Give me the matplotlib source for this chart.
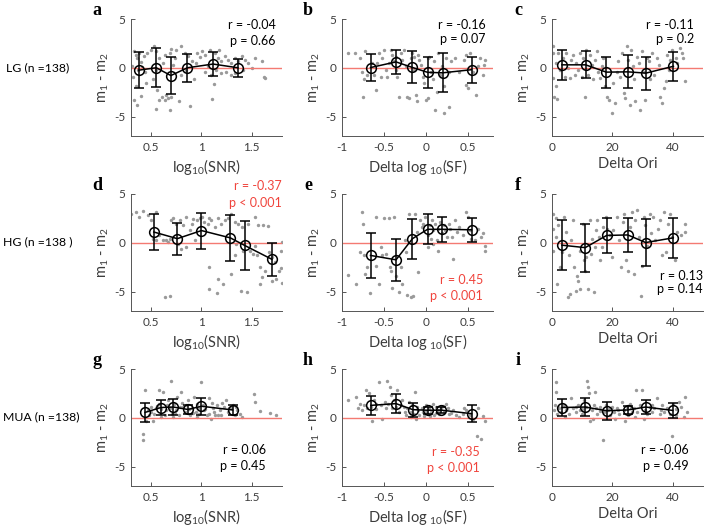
import matplotlib
matplotlib.use('Agg')
import matplotlib.pyplot as plt

plt.rcParams['font.family'] = ['Lato', 'DejaVu Sans']
plt.rcParams['mathtext.fontset'] = 'custom'
plt.rcParams['mathtext.rm'] = 'Lato'
plt.rcParams['mathtext.it'] = 'Lato'
plt.rcParams['axes.unicode_minus'] = False

# ---------------------------------------------------------
# data
# ---------------------------------------------------------
# LG vs log10(SNR)
a_x = [0.33, 0.35, 0.36, 0.38, 0.40, 0.41, 0.43, 0.32, 0.35, 0.33, 0.36, 0.40, 0.45, 0.31, 0.37, 0.44,
       0.46, 0.50, 0.53, 0.55, 0.58, 0.62, 0.55, 0.52, 0.56, 0.58, 0.55, 0.61, 0.64, 0.65, 0.67, 0.69, 0.70, 0.72, 0.64, 0.69, 0.74,
       0.75, 0.80, 0.84, 0.87, 0.91, 0.80, 0.85, 0.95, 0.99, 0.93, 0.78, 0.89, 0.96, 0.70,
       1.01, 1.04, 1.08, 1.13, 1.16, 1.19, 1.23, 1.26, 1.29, 1.33, 1.04, 1.09, 1.14, 1.19, 1.24, 1.29, 1.33, 1.12, 1.10, 1.06, 1.17,
       1.36, 1.40, 1.43, 1.46, 1.53, 1.60, 1.62, 1.63, 1.41, 1.50]
a_y = [1.7, 1.35, 1.0, 1.5, 0.6, 0.1, 1.2, -0.9, -1.9, -3.3, -3.8, -2.9, -1.6, 0.2, -0.2, -0.4,
       1.5, 1.85, 2.2, 1.7, 1.0, 0.5, -0.2, -1.2, -2.3, -3.3, -4.2, -3.0, -3.3, -2.8, -3.1, -4.3, -3.0, 0.3, 1.3, 1.5, 1.0,
       1.85, 2.2, 1.5, 1.2, 0.65, -0.7, -0.2, 0.45, 1.1, -1.2, -3.4, -3.9, 1.5, 1.9,
       1.7, 1.3, 1.85, 1.5, 1.0, 0.65, 1.2, 0.8, 0.5, 1.0, -0.4, -0.7, -0.2, -0.55, -0.4, -0.7, -0.55, -1.7, -3.2, 0.15, 1.85,
       0.65, 1.2, 0.8, 0.5, 1.0, 0.65, -0.9, -1.0, -0.2, 0.0]
a_bx = [0.375, 0.551, 0.696, 0.861, 1.115, 1.361]
a_bm = [-0.25, 0.0, -0.8, 0.0, 0.38, 0.0]
a_be = [1.82, 1.98, 1.9, 1.45, 1.2, 0.93]

# LG vs Delta log10(SF)
b_x = [-0.93, -0.84, -0.78, -0.75, -0.76, -0.74, -0.72, -0.70, -0.64, -0.62,
       -0.59, -0.56, -0.54, -0.52, -0.50, -0.48, -0.46, -0.44, -0.42, -0.40,
       -0.38, -0.36, -0.34, -0.32, -0.30, -0.28, -0.26, -0.24, -0.22, -0.20,
       -0.18, -0.16, -0.14, -0.12, -0.11, -0.10, -0.08, -0.06, -0.04, -0.02,
       0.00, 0.02, 0.04, 0.06, 0.08, 0.10, 0.11, 0.13, 0.15, 0.17,
       0.19, 0.21, 0.22, 0.24, 0.27, 0.28, 0.30, 0.35, 0.40, 0.45,
       0.48, 0.50, 0.52, 0.56, 0.60, 0.62, 0.65, 0.68, 0.71, 0.69,
       0.48, 0.02, -0.14, -0.36, -0.58]
b_y = [1.5, 1.5, 1.0, -3.0, -0.4, -1.2, 1.7, -0.7, 0.5, -0.7,
       -2.3, 1.5, -0.9, 1.0, 1.85, -0.2, -0.9, 0.5, 1.85, 1.35,
       0.65, -0.2, -0.9, -3.0, 1.5, 0.8, 1.85, 0.15, -2.95, -3.1,
       1.0, 1.5, -0.2, -2.8, -3.45, 1.35, 0.8, 0.3, -0.9, -1.6,
       -3.3, -3.1, 1.15, -0.4, -1.2, 0.65, -4.3, -2.45, 1.5, -0.7,
       0.15, -4.65, -1.9, 1.0, -4.0, -0.4, 0.65, 1.0, -0.4, 0.8,
       -1.75, -2.1, 1.5, -0.4, -2.8, 0.15, 1.0, -0.7, 0.8, 0.3,
       1.35, 1.0, 1.15, 1.15, 0.5]
b_bx = [-0.66, -0.356, -0.168, 0.02, 0.2, 0.544]
b_bm = [0.02, 0.6, 0.05, -0.47, -0.52, -0.2]
b_be = [1.42, 1.25, 1.63, 1.57, 2.0, 1.35]

# LG vs Delta Ori
c_x = [0.3, 0.3, 0.3, 0.6, 1.7, 1.2, 1.4, 2.0, 2.6, 3.7, 4.2, 4.8, 5.3, 5.9, 6.4, 7.0, 7.6, 8.1, 8.7, 9.2,
       9.8, 10.3, 10.9, 11.4, 12.0, 12.6, 13.1, 13.7, 14.2, 14.8, 15.3, 15.9, 16.4, 17.0, 17.6, 18.3, 19.0, 19.8, 20.3, 20.9,
       21.4, 22.0, 22.6, 23.1, 23.7, 24.2, 24.8, 25.0, 25.7, 26.2, 26.8, 27.2, 27.6, 28.1, 28.7, 29.2, 29.8, 30.3, 30.9, 31.4,
       32.0, 32.6, 33.1, 33.7, 34.8, 35.3, 35.9, 36.4, 37.0, 37.6, 38.1, 38.7, 39.2, 39.8, 40.9, 41.4, 42.3, 43.1, 43.9, 43.4]
c_y = [2.2, 1.5, -1.0, -3.0, -3.2, -1.85, 0.5, 1.5, -0.2, 1.0, -0.9, 1.5, 0.0, -1.05, 0.8, 1.35, -0.7, 0.5, -0.2, 1.5,
       -0.9, 1.0, -2.95, 1.85, -0.7, 1.35, 0.3, -1.2, 0.8, 1.7, -0.4, -1.05, 0.15, 1.0, -1.9, -2.95, -3.3, -4.6, -1.6, -3.6,
       -0.4, 0.65, -0.9, 1.5, -2.6, -3.1, 2.2, 0.8, -3.8, 1.85, 0.15, -1.2, -3.45, 1.15, 0.5, -4.3, 1.7, -0.4, -3.3, 1.0,
       0.65, -1.2, 1.5, -0.7, 1.0, 0.3, -2.95, -3.6, -2.1, -1.4, 1.35, -0.2, 0.8, 1.85, 1.0, 0.5, 2.0, 1.5, -1.4, 1.0]
c_bx = [3.3, 11.1, 18.0, 25.1, 31.1, 40.2]
c_bm = [0.3, 0.3, -0.45, -0.42, -0.55, 0.15]
c_be = [1.55, 1.4, 1.6, 1.7, 1.7, 1.5]

# HG vs log10(SNR)
d_x = [0.30, 0.35, 0.38, 0.42, 0.47, 0.50, 0.55, 0.52, 0.55, 0.58, 0.62, 0.65, 0.69, 0.70, 0.72, 0.75, 0.79, 0.82, 0.85, 0.89,
       0.91, 0.92, 0.96, 0.99, 1.01, 1.03, 1.06, 1.07, 1.09, 1.13, 1.16, 1.19, 1.23, 1.26, 1.29, 1.33, 1.36, 1.40, 1.46, 1.53,
       1.56, 1.61, 1.66,
       0.94, 0.85, 1.07, 1.16, 1.21, 1.07, 1.15, 1.29, 1.33, 1.39, 1.45, 1.34, 1.48, 1.51, 1.55, 1.58, 1.60, 1.63, 1.67, 1.70,
       1.73, 1.77, 1.80, 1.79, 1.79, 1.80, 1.74, 1.70, 1.58, 0.64, 0.69, 0.67, 0.77, 0.80, 1.53, 1.41]
d_y = [3.0, 3.15, 2.65, 3.25, 2.85, 2.3, 3.15, 0.4, 0.25, 0.75, 0.3, 0.25, 0.4, 2.3, 2.5, 1.95, 2.3, 1.8, 2.65, 1.3,
       1.95, 2.4, 2.3, 2.5, 2.65, 2.15, 1.9, 2.5, 2.3, 1.6, 2.5, 1.95, 2.3, 2.5, 3.0, 2.15, 1.95, 1.6, 1.95, 2.65,
       1.8, 1.8, 1.7,
       0.25, -0.45, -2.5, -3.7, -4.25, -4.75, -5.2, -3.2, -1.3, -4.9, -5.1, -0.1, -0.8, -1.15, -1.3, -2.5, -3.55, -2.85, -0.95, -1.5,
       -2.0, -2.85, 0.05, -0.8, -2.6, -4.15, -3.7, -3.9, -4.25, -5.55, -5.45, 0.05, -0.1, -0.6, -0.3, -0.8]
d_bx = [0.527, 0.76, 1.0, 1.287, 1.43, 1.70]
d_bm = [1.1, 0.42, 1.25, 0.5, -0.28, -1.7]
d_be = [1.85, 1.65, 1.85, 2.35, 2.5, 1.7]

# HG vs Delta log10(SF)
e_x = [-0.93, -0.83, -0.78, -0.76, -0.75, -0.74, -0.72, -0.70, -0.67, -0.60,
       -0.59, -0.56, -0.54, -0.52, -0.50, -0.48, -0.44, -0.43, -0.42, -0.38,
       -0.40, -0.36, -0.32, -0.30, -0.28, -0.25, -0.24, -0.22, -0.20, -0.18,
       -0.15, -0.13, -0.11, -0.09, -0.07, -0.05, -0.03, -0.01, 0.02, 0.03,
       0.05, 0.07, 0.09, 0.11, 0.13, 0.15, 0.17, 0.19, 0.21, 0.23,
       0.25, 0.27, 0.29, 0.31, 0.32, 0.35, 0.37, 0.40, 0.44, 0.48,
       0.50, 0.52, 0.54, 0.58, 0.62, 0.66, 0.68, 0.70, 0.70, 0.08,
       0.06, 0.14]
e_y = [-3.3, -4.25, -0.95, 3.15, 1.95, -1.3, -3.2, -2.5, -5.2, -2.35,
       2.65, -4.25, -0.45, -1.3, 2.5, -1.15, 2.5, -2.5, -2.85, 2.6,
       -4.6, -3.4, -5.1, -2.5, -4.25, 0.25, -0.95, -5.35, 3.0, -5.55,
       -5.45, 3.0, 1.1, -3.05, 2.3, 1.6, 1.95, 2.65, 0.75, -0.45,
       1.8, 2.3, 1.3, 1.95, 0.25, 1.45, 2.15, 0.95, 1.8, 1.3,
       0.6, 1.95, 1.45, 0.6, -1.65, 2.3, 1.1, 1.6, 0.75, 3.15,
       2.65, 1.3, 0.4, 0.25, 1.45, 0.6, 0.95, -0.8, -0.3, -0.1,
       0.4, -0.8]
e_bx = [-0.66, -0.356, -0.16, 0.02, 0.19, 0.544]
e_bm = [-1.3, -1.75, 0.42, 1.38, 1.38, 1.33]
e_be = [2.35, 2.15, 2.05, 1.55, 1.3, 1.22]

# HG vs Delta Ori
f_x = [0.3, 0.3, 0.3, 1.2, 1.4, 1.7, 2.0, 2.8, 3.4, 3.9, 4.8, 5.3, 5.7, 6.1, 6.4, 7.0, 7.2, 7.9, 8.3, 8.7,
       9.2, 9.4, 10.1, 10.6, 10.9, 12.0, 12.6, 12.8, 13.4, 13.9, 14.2, 14.6, 15.0, 15.7, 16.4, 17.0, 17.9, 18.3, 19.2, 19.8,
       20.3, 21.4, 22.3, 22.9, 23.4, 24.0, 24.6, 25.0, 25.7, 26.4, 27.0, 27.6, 28.1, 28.7, 29.4, 29.8, 30.3, 30.9, 31.4, 32.3,
       32.8, 33.4, 34.2, 35.0, 35.9, 36.4, 37.0, 37.9, 38.3, 39.0, 39.8, 40.6, 41.4, 43.9, 44.2, 42.6, 15.9, 11.4]
f_y = [3.0, 1.45, -0.8, 2.5, 0.6, -4.25, 1.8, -2.5, -0.95, 2.65, 1.1, -5.55, -1.3, -5.3, 0.25, 2.3, -2.5, -4.9, -3.4, -3.9,
       -4.75, -0.8, 1.95, -1.8, -2.85, -4.75, 2.3, -1.15, 0.4, -5.1, -0.45, 1.3, 2.3, 0.6, -0.45, 1.6, 2.65, 1.45, 0.75, -1.5,
       1.3, 2.65, 0.25, -2.5, 2.15, 3.0, -1.8, -2.85, 1.6, 3.15, -3.2, 2.3, 3.35, 0.6, -5.45, -2.35, 2.65, 1.8, -0.3, 3.0,
       0.95, 2.65, 0.25, 1.45, 2.3, -1.3, 3.15, -0.95, 1.95, 3.0, 0.6, -1.8, 1.1, 1.95, 1.1, 0.75, -1.8, -1.5]
f_bx = [3.3, 11.0, 18.1, 25.1, 31.0, 40.1]
f_bm = [-0.25, -0.5, 0.75, 0.8, 0.02, 0.5]
f_be = [2.55, 2.45, 1.78, 1.7, 2.43, 2.05]

# MUA vs log10(SNR)
g_x = [0.44, 0.42, 0.42, 0.45, 0.47, 0.50, 0.52, 0.53, 0.55, 0.58, 0.58, 0.62, 0.64, 0.65, 0.67, 0.69, 0.70, 0.71, 0.73, 0.75,
       0.76, 0.78, 0.80, 0.82, 0.84, 0.85, 0.87, 0.89, 0.91, 0.93, 0.95, 0.96, 0.98, 1.00, 1.02, 1.03, 1.05, 1.07, 1.09, 1.11,
       1.12, 1.15, 1.18, 1.19, 1.22, 1.24, 1.26, 1.29, 1.31, 1.33, 1.35, 1.38, 1.40, 1.52, 1.53, 1.58, 1.68, 1.74, 0.48, 0.60,
       0.72, 0.96, 1.16, 1.07, 0.79, 0.50, 0.56, 0.60, 0.66, 0.74, 0.81, 0.88, 0.92, 0.97, 1.04, 1.10, 1.13, 1.20, 1.27, 1.34]
g_y = [2.8, -1.65, -2.3, -0.3, 0.75, 1.1, -0.3, 0.4, 0.95, 1.45, 2.8, 2.65, 0.25, 0.75, 1.8, 0.95, 3.8, 0.4, 1.45, 0.75,
       2.15, 0.25, 2.65, 1.1, 0.6, 1.3, 1.8, 0.25, 0.95, 2.15, 0.6, 1.45, 0.4, 3.7, 1.3, 0.75, 0.25, 2.0, -0.1, 0.95,
       0.6, 1.3, 0.75, 0.25, 1.1, 1.8, 0.6, 0.95, 1.3, 0.25, 0.75, 0.4, 0.05, 2.45, 1.65, 0.7, 0.5, 0.3, 0.25, 0.05,
       0.05, 0.05, 0.25, 0.4, 1.1, 0.6, 1.2, 0.9, 1.3, 0.5, 1.5, 0.9, 0.5, 1.0, 0.9, 1.5, 0.3, 1.5, 1.0, 1.1]
g_bx = [0.44, 0.598, 0.72, 0.865, 1.0, 1.31]
g_bm = [0.55, 1.05, 1.1, 0.85, 1.18, 0.8]
g_be = [1.0, 0.8, 0.8, 0.45, 0.85, 0.55]

# MUA vs Delta log10(SF)
h_x = [-0.93, -0.83, -0.81, -0.78, -0.76, -0.74, -0.71, -0.68, -0.66, -0.64,
       -0.62, -0.59, -0.56, -0.54, -0.52, -0.49, -0.46, -0.45, -0.43, -0.42,
       -0.40, -0.38, -0.36, -0.34, -0.32, -0.28, -0.26, -0.24, -0.22, -0.20,
       -0.18, -0.16, -0.14, -0.13, -0.12, -0.10, -0.08, -0.05, -0.03, 0.00,
       0.02, 0.04, 0.06, 0.08, 0.10, 0.12, 0.14, 0.16, 0.18, 0.21,
       0.24, 0.26, 0.28, 0.32, 0.36, 0.40, 0.44, 0.48, 0.52, 0.56,
       0.61, 0.66, 0.68, 0.70, 0.62, -0.02, -0.18,
       -0.70, -0.60, -0.47, -0.30, -0.25, -0.11, 0.00, 0.05, 0.12, 0.20, 0.30, 0.45]
h_y = [1.8, 2.15, 0.95, 1.45, 0.75, 1.3, 2.8, 2.5, 1.1, -0.3,
       1.8, 1.45, 3.7, 1.3, -0.1, 1.65, 3.8, 1.45, 3.2, 2.35,
       0.95, 1.8, 1.1, 2.85, 0.6, 1.8, 1.1, 0.25, 0.95, 1.65,
       0.6, 1.3, 0.4, 2.65, -0.1, 0.75, 0.25, 0.95, 0.6, 1.3,
       0.4, 0.95, 0.6, 1.45, 0.25, 1.1, 0.75, 0.4, 0.95, 0.6,
       1.45, 0.95, 0.4, 0.75, 0.25, 0.05, 0.4, 0.75, 0.25, -0.1,
       -1.85, -2.2, 0.15, -0.3, 0.95, 0.15, 0.05,
       1.0, 0.9, 1.0, 1.3, 0.6, 1.1, 0.6, 0.2, 0.5, 1.2, 0.5, 1.0]
h_bx = [-0.656, -0.356, -0.156, 0.02, 0.184, 0.544]
h_bm = [1.27, 1.45, 0.83, 0.77, 0.78, 0.42]
h_be = [0.95, 0.95, 0.73, 0.35, 0.3, 0.87]

# MUA vs Delta Ori
i_x = [1.2, 1.4, 0.6, 0.9, 1.7, 2.3, 3.1, 3.9, 4.8, 5.7, 6.4, 7.0, 7.9, 8.7, 9.2, 9.8, 10.6, 11.2, 11.7, 12.0,
       12.3, 12.6, 13.1, 13.7, 14.2, 14.6, 15.0, 15.9, 16.8, 17.2, 17.9, 18.7, 19.2, 19.8, 20.6, 21.4, 22.3, 23.1, 23.7, 24.2,
       24.8, 25.3, 25.9, 26.4, 27.0, 27.9, 28.3, 29.0, 29.8, 30.3, 30.9, 31.4, 32.3, 33.1, 33.9, 34.8, 35.7, 36.4, 37.2, 38.1,
       39.0, 39.6, 40.1, 40.9, 42.0, 42.8, 43.7, 44.2, 44.6, 4.2, 20.9, 27.6,
       2.0, 5.0, 8.0, 10.0, 16.0, 19.0, 22.0, 26.0, 33.0, 36.0, 41.0, 14.0]
i_y = [3.7, 2.65, 0.75, 1.3, 0.4, 0.95, 0.6, 1.3, 0.75, 0.4, 2.0, 0.95, 0.6, 1.3, 0.75, 0.4, 1.8, 1.1, 3.8, 3.2,
       2.5, -0.3, 0.75, -0.1, 2.65, 0.95, 0.4, 1.1, -2.25, 0.6, 1.3, 0.75, 0.25, 1.1, 0.6, 0.95, 0.4, 1.65, 0.75, -0.3,
       1.1, 0.25, 1.45, 0.6, 0.95, 2.8, 0.6, 1.3, 2.8, -0.1, 0.75, 0.4, 1.1, 0.6, 0.95, 2.0, 0.4, 1.3, 0.6, 0.95,
       0.4, -1.85, 1.45, 0.25, 1.65, 1.1, 0.05, 2.15, 0.6, 0.05, -0.1, 0.05,
       1.1, 1.0, 1.1, 0.9, 0.7, 0.9, 0.8, 1.0, 1.3, 0.8, 0.9, 1.3]
i_bx = [3.33, 11.0, 18.1, 25.1, 31.0, 40.0]
i_bm = [1.05, 1.1, 0.72, 0.8, 1.1, 0.75]
i_be = [0.9, 0.9, 0.92, 0.45, 0.68, 0.78]

letters = ['a', 'b', 'c', 'd', 'e', 'f', 'g', 'h', 'i']
r_text = ['r = -0.04', 'r = -0.16', 'r = -0.11', 'r = -0.37', 'r = 0.45', 'r = 0.13', 'r = 0.06', 'r = -0.35', 'r = -0.06']
p_text = ['p = 0.66', 'p = 0.07', 'p = 0.2', 'p < 0.001', 'p < 0.001', 'p = 0.14', 'p = 0.45', 'p < 0.001', 'p = 0.49']
significant = [False, False, False, True, True, False, False, True, False]
row_labels = ['LG (n =138)', 'HG (n =138 )', 'MUA (n =138)']
x_labels = ['log$_{10}$(SNR)', 'Delta log $_{10}$(SF)', 'Delta Ori']
x_lims = [(0.3, 1.8), (-1, 0.8), (0, 50)]
x_ticks = [[0.5, 1, 1.5], [-1, -0.5, 0, 0.5], [0, 20, 40]]
x_ticklabels = [['0.5', '1', '1.5'], ['-1', '-0.5', '0', '0.5'], ['0', '20', '40']]

# ---------------------------------------------------------
# layout
# ---------------------------------------------------------
scatter_data = [(a_x, a_y), (b_x, b_y), (c_x, c_y), (d_x, d_y), (e_x, e_y), (f_x, f_y),
                (g_x, g_y), (h_x, h_y), (i_x, i_y)]
bin_data = [(a_bx, a_bm, a_be), (b_bx, b_bm, b_be), (c_bx, c_bm, c_be),
            (d_bx, d_bm, d_be), (e_bx, e_bm, e_be), (f_bx, f_bm, f_be),
            (g_bx, g_bm, g_be), (h_bx, h_bm, h_be), (i_bx, i_bm, i_be)]

# text position (axes fraction, right aligned) for r / p lines
text_pos = [(0.96, 0.95, 0.81), (0.953, 0.95, 0.83), (0.94, 0.95, 0.83),
            (1.0, 1.068, 0.923), (0.933, 0.265, 0.128), (1.0, 0.30, 0.188),
            (0.894, 0.308, 0.171), (0.913, 0.29, 0.154), (0.907, 0.308, 0.171)]

W, H = 708, 528
col_left = [131, 342, 552]
col_w = 151
row_bottom = [136, 311, 486]
row_h = 117

gray_txt = '#3c3c3c'
red_txt = '#f0443c'

fig = plt.figure(figsize=(W / 100, H / 100), dpi=100)

for k in range(9):
    r, c = divmod(k, 3)
    ax = fig.add_axes([col_left[c] / W, 1 - row_bottom[r] / H, col_w / W, row_h / H])
    sx, sy = scatter_data[k]
    ax.scatter(sx, sy, s=6, color='#9a9a9a', linewidths=0, zorder=1)
    ax.axhline(0, color='#f47a72', lw=1.0, zorder=2)
    bx, bm, be = bin_data[k]
    ax.errorbar(bx, bm, yerr=be, color='black', lw=1.1, capsize=3.3, capthick=1.1,
                marker='o', ms=7, mfc='none', mec='black', mew=1.1, zorder=3)

    ax.set_xlim(*x_lims[c])
    ax.set_ylim(-7, 5)
    ax.set_xticks(x_ticks[c])
    ax.set_xticklabels(x_ticklabels[c])
    ax.set_yticks([-5, 0, 5])
    ax.set_yticklabels(['-5', '0', '5'])
    for s in ['top', 'right']:
        ax.spines[s].set_visible(False)
    for s in ['left', 'bottom']:
        ax.spines[s].set_color('#555555')
        ax.spines[s].set_linewidth(0.7)
    ax.tick_params(direction='in', length=3, width=0.7, colors='#555555',
                   labelcolor=gray_txt, labelsize=8.5, pad=4)
    ax.set_xlabel(x_labels[c], fontsize=10.5, color=gray_txt, labelpad=3)
    ax.set_ylabel('m$_1$ - m$_2$', fontsize=10.5, color=gray_txt, labelpad=2)

    tx, ry, py = text_pos[k]
    col = red_txt if significant[k] else 'black'
    ax.text(tx, ry, r_text[k], transform=ax.transAxes, ha='right', va='center',
            fontsize=9, color=col, clip_on=False)
    ax.text(tx, py, p_text[k], transform=ax.transAxes, ha='right', va='center',
            fontsize=9, color=col, clip_on=False)

    ax.text(-0.225, 1.07, letters[k], transform=ax.transAxes, ha='center', va='center',
            fontsize=13, fontweight='bold', family=['Liberation Serif', 'DejaVu Serif'])

row_x = [38, 38, 41]
row_y = [68, 242, 417]
for r in range(3):
    fig.text(row_x[r] / W, 1 - row_y[r] / H, row_labels[r], ha='center', va='center',
             fontsize=8.8, color='black')

fig.savefig('out.png', dpi=100)
